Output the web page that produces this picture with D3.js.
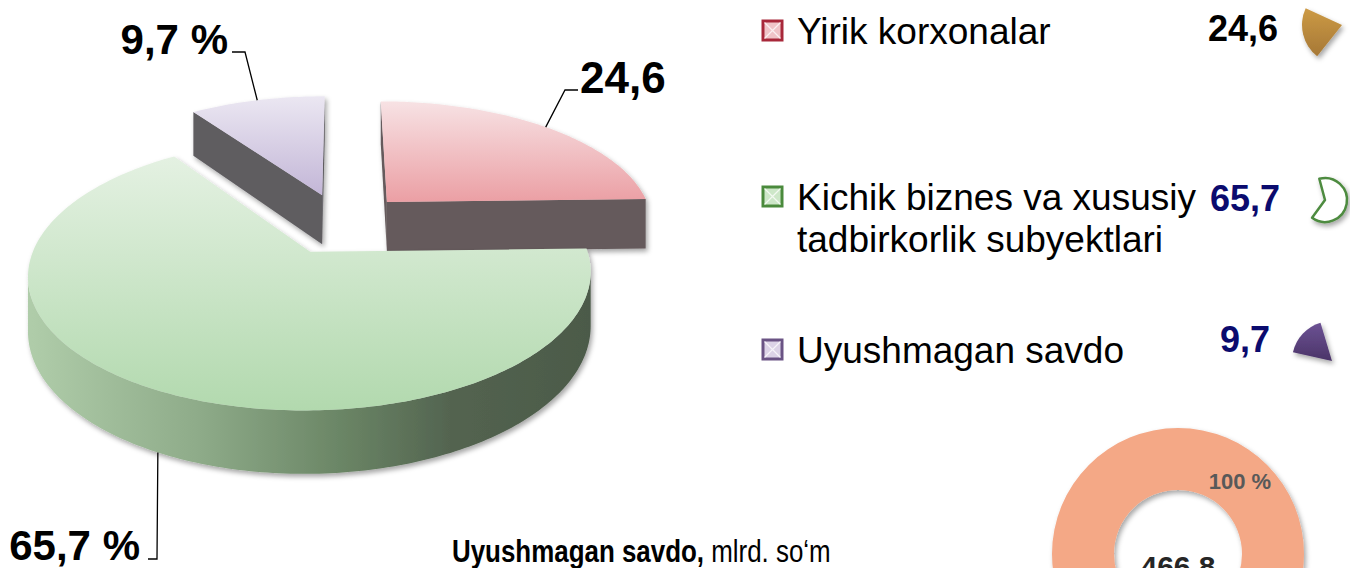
<!DOCTYPE html>
<html>
<head>
<meta charset="utf-8">
<script src="https://cdn.jsdelivr.net/npm/d3@7"></script>
<style>
  body { margin: 0; background: #ffffff; }
  svg { display: block; }
</style>
</head>
<body>
<div id="chart"></div>
<script>
// ---- data ----
const categories = ["Yirik korxonalar", "Kichik biznes va xususiy tadbirkorlik subyektlari", "Uyushmagan savdo"];
const legendLines = [["Yirik korxonalar"], ["Kichik biznes va xususiy", "tadbirkorlik subyektlari"], ["Uyushmagan savdo"]];
const shares = [24.6, 65.7, 9.7];
const pieLabels = ["24,6", "65,7 %", "9,7 %"];
const legendValues = ["24,6", "65,7", "9,7"];
const ringValues = [466.8];
const ringLabel = "466,8";
const ringShare = "100 %";
const titleBold = "Uyushmagan savdo,";
const titleRest = " mlrd. so\u2018m";

// ---- styles ----
const topColors = [["#f7e2e4", "#eb9fa4"], ["#e4f1e2", "#b2d9ae"], ["#ebe7f2", "#c3b6d7"]];
const sideColors = ["#655a5c", "url(#greenWall)", "#5f5d61"];
const radialColors = ["#655a5c", "#4d5b4a", "#5f5d61"];
const legendStroke = ["#a8283a", "#4a8a3c", "#6a5384"];
const legendFill = ["#f0c4c8", "#cde7c8", "#dcd3e7"];
const valueColors = ["#000000", "#0b0b6e", "#0b0b6e"];

const W = 1350, H = 568;

// perspective projection for the 3D pie
const P = { cx: 341.5, cy: 223.4, a: 267.5, b: 123, k: 0.16, d: 51, explode: 0.25 };
const proj = (u, v, h) => {
    const w = 1 + P.k * v;
    return [P.cx + P.a * u / w, P.cy - P.b * v / w + P.d * h / w];
};
const area = (pts) => {
    let s = 0;
    for (let i = 0; i < pts.length; i++) {
        const p = pts[i], q = pts[(i + 1) % pts.length];
        s += p[0] * q[1] - q[0] * p[1];
    }
    return s / 2;
};

const svg = d3.select("#chart").append("svg")
    .attr("width", W)
    .attr("height", H)
    .style("font-family", "'Liberation Sans', Arial, sans-serif");

const defs = svg.append("defs");
const shadow = defs.append("filter").attr("id", "shadow")
    .attr("x", "-20%").attr("y", "-20%").attr("width", "140%").attr("height", "140%");
shadow.append("feDropShadow")
    .attr("dx", 2).attr("dy", 3).attr("stdDeviation", 2.5)
    .attr("flood-color", "#000").attr("flood-opacity", 0.35);

topColors.forEach((c, i) => {
    const g = defs.append("linearGradient").attr("id", "top" + i)
        .attr("x1", 0).attr("y1", 0).attr("x2", 0).attr("y2", 1);
    g.append("stop").attr("offset", "0%").attr("stop-color", c[0]);
    g.append("stop").attr("offset", "100%").attr("stop-color", c[1]);
});
const gw = defs.append("linearGradient").attr("id", "greenWall")
    .attr("gradientUnits", "userSpaceOnUse")
    .attr("x1", 32).attr("y1", 0).attr("x2", 590).attr("y2", 0);
[["0", "#afcca9"], ["0.3", "#8eab89"], ["0.55", "#6b8666"], ["0.75", "#536450"], ["1", "#4c5a49"]]
    .forEach(s => gw.append("stop").attr("offset", s[0]).attr("stop-color", s[1]));

const gold = defs.append("linearGradient").attr("id", "gold")
    .attr("x1", 0).attr("y1", 0).attr("x2", 0).attr("y2", 1);
gold.append("stop").attr("offset", "0%").attr("stop-color", "#cc9a45");
gold.append("stop").attr("offset", "100%").attr("stop-color", "#a67836");
const purp = defs.append("linearGradient").attr("id", "purp")
    .attr("x1", 0).attr("y1", 0).attr("x2", 0).attr("y2", 1);
purp.append("stop").attr("offset", "0%").attr("stop-color", "#6c5294");
purp.append("stop").attr("offset", "100%").attr("stop-color", "#4b3468");

// ---- 3D pie ----
const pie = d3.pie().sort(null).value(d => d);
const arcs = pie(shares);
const line = d3.line();

const slices = arcs.map((a, i) => {
    const m = (a.startAngle + a.endAngle) / 2;
    const ox = P.explode * Math.sin(m), oy = P.explode * Math.cos(m);
    const rim = (t, h) => proj(ox + Math.sin(t), oy + Math.cos(t), h);
    const apex = (h) => proj(ox, oy, h);
    return { i, a, m, ox, oy, rim, apex };
});

const pieG = svg.append("g").attr("class", "pie3d");

slices.slice().sort((p, q) => q.oy - p.oy).forEach(sl => {
    const s = sl.a.startAngle, e = sl.a.endAngle;
    const g = pieG.append("g").attr("filter", "url(#shadow)");
    const n = Math.max(4, Math.ceil((e - s) / (Math.PI / 180)));
    const ts = d3.range(n + 1).map(j => s + (e - s) * j / n);

    // radial faces
    const startFace = [sl.apex(0), sl.rim(s, 0), sl.rim(s, 1), sl.apex(1)];
    const endFace = [sl.rim(e, 0), sl.apex(0), sl.apex(1), sl.rim(e, 1)];
    [startFace, endFace].forEach(f => {
        if (area(f) < 0) {
            g.append("path").attr("d", line(f) + "Z").attr("fill", radialColors[sl.i]);
        }
    });

    // outer wall, visible runs only
    const runs = [];
    let run = [];
    for (let j = 0; j < n; j++) {
        const q = [sl.rim(ts[j], 0), sl.rim(ts[j + 1], 0), sl.rim(ts[j + 1], 1), sl.rim(ts[j], 1)];
        if (area(q) < 0) {
            if (!run.length) run.push(ts[j]);
            run.push(ts[j + 1]);
        } else if (run.length) { runs.push(run); run = []; }
    }
    if (run.length) runs.push(run);
    runs.forEach(r => {
        const pts = r.map(t => sl.rim(t, 0)).concat(r.slice().reverse().map(t => sl.rim(t, 1)));
        g.append("path").attr("d", line(pts) + "Z").attr("fill", sideColors[sl.i]);
    });

    // top face
    const top = [sl.apex(0)].concat(ts.map(t => sl.rim(t, 0)));
    g.append("path").attr("d", line(top) + "Z").attr("fill", "url(#top" + sl.i + ")");
});

// ---- pie labels with leader lines ----
const leaders = [
    { h: 0, bend: [565, 90], end: [578, 90], anchor: "start", dx: 2, dy: 3, size: 44 },
    { h: 1, bend: [157, 559], end: [148, 559], anchor: "end", dx: -8, dy: 1, size: 42 },
    { h: 0, bend: [245, 52], end: [232, 52], anchor: "end", dx: -4, dy: 2, size: 42 }
];
slices.forEach(sl => {
    const L = leaders[sl.i];
    const p0 = sl.rim(sl.m, L.h);
    svg.append("path")
        .attr("d", line([p0, L.bend, L.end]))
        .attr("fill", "none").attr("stroke", "#000").attr("stroke-width", 1.3);
    svg.append("text")
        .attr("x", L.end[0] + L.dx).attr("y", L.end[1] + L.dy)
        .attr("text-anchor", L.anchor)
        .attr("font-size", L.size).attr("font-weight", "bold")
        .attr("fill", "#000")
        .text(pieLabels[sl.i]);
});

// ---- legend ----
const legendY = [44, 210, 363];
const legend = svg.append("g").attr("class", "legend");
categories.forEach((c, i) => {
    const y = legendY[i];
    const sq = 19, x0 = 763, y0 = y - 23;
    legend.append("rect")
        .attr("x", x0).attr("y", y0).attr("width", sq).attr("height", sq)
        .attr("fill", legendFill[i]).attr("stroke", legendStroke[i]).attr("stroke-width", 3);
    legend.append("path")
        .attr("d", `M${x0 + 1.5},${y0 + 1.5}L${x0 + sq - 1.5},${y0 + sq - 1.5}M${x0 + sq - 1.5},${y0 + 1.5}L${x0 + 1.5},${y0 + sq - 1.5}`)
        .attr("stroke", "#ffffff").attr("stroke-opacity", 0.75).attr("stroke-width", 1.2);
    legendLines[i].forEach((t, k) => {
        legend.append("text")
            .attr("x", 797).attr("y", y + k * 42)
            .attr("font-size", 37).attr("fill", "#000")
            .text(t);
    });
});

const valueX = [1278, 1280, 1270];
const valueY = [41, 211, 352];
legendValues.forEach((v, i) => {
    svg.append("text")
        .attr("x", valueX[i]).attr("y", valueY[i])
        .attr("text-anchor", "end")
        .attr("font-size", 36).attr("font-weight", "bold")
        .attr("fill", valueColors[i])
        .text(v);
});

// small slice icons next to the values
const icons = [
    { c: [1342, 25], r: 40, a0: -141.6, a1: -65.3, fill: "url(#gold)", stroke: "none" },
    { c: [1325, 200], r: 22, a0: -15, a1: 216, fill: "#ffffff", stroke: "#4e8b3f" },
    { c: [1332, 361], r: 40, a0: -77.5, a1: -16.7, fill: "url(#purp)", stroke: "none" }
];
const rad = Math.PI / 180;
icons.forEach(ic => {
    svg.append("path")
        .attr("transform", `translate(${ic.c[0]},${ic.c[1]})`)
        .attr("d", d3.arc().innerRadius(0).outerRadius(ic.r)({ startAngle: ic.a0 * rad, endAngle: ic.a1 * rad }))
        .attr("fill", ic.fill).attr("stroke", ic.stroke).attr("stroke-width", 2.5)
        .attr("stroke-linejoin", "round")
        .attr("filter", "url(#shadow)");
});

// ---- donut ----
const ring = svg.append("g").attr("transform", "translate(1178,554)");
ring.selectAll("path")
    .data(pie(ringValues))
    .enter().append("path")
    .attr("d", d3.arc().innerRadius(64).outerRadius(126))
    .attr("fill", "#f4a886")
    .attr("filter", "url(#shadow)");
ring.append("text")
    .attr("x", 62).attr("y", -65)
    .attr("text-anchor", "middle")
    .attr("font-size", 22).attr("font-weight", "bold")
    .attr("fill", "#595959")
    .text(ringShare);
ring.append("text")
    .attr("x", 0).attr("y", 23)
    .attr("text-anchor", "middle")
    .attr("font-size", 30).attr("font-weight", "bold")
    .attr("fill", "#262626")
    .text(ringLabel);

// ---- title ----
const title = svg.append("text")
    .attr("transform", "translate(452,562) scale(0.81,1)")
    .attr("font-size", 32).attr("fill", "#000");
title.append("tspan").attr("font-weight", "bold").text(titleBold);
title.append("tspan").text(titleRest);
</script>
</body>
</html>
